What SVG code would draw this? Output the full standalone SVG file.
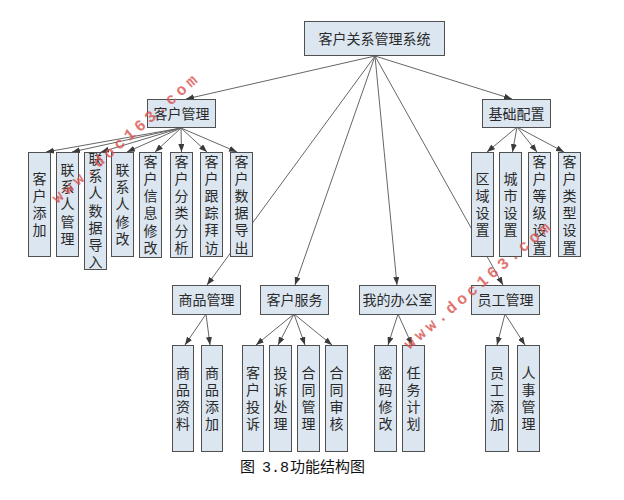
<svg xmlns="http://www.w3.org/2000/svg" width="624" height="500" viewBox="0 0 624 500">
<style>
.box{fill:#dce6f1;stroke:#505050;stroke-width:1}
.lbl{font-family:"Liberation Sans","Noto Sans CJK SC",sans-serif;font-size:14px;fill:#2a2a2a;text-anchor:middle;dominant-baseline:central}
.con{stroke:#666;stroke-width:1;fill:none;marker-end:url(#ah)}
.wm{font-family:"Liberation Mono",monospace;font-size:16px;font-weight:bold;fill:#d9534f;letter-spacing:4px;opacity:0.8}
.cap{font-family:"Liberation Sans","Noto Sans CJK SC",sans-serif;font-size:15px;fill:#111}
</style>
<defs>
<marker id="ah" viewBox="0 0 8 6" refX="8" refY="3" markerWidth="8" markerHeight="6" markerUnits="userSpaceOnUse" orient="auto">
<path d="M0,0 L8,3 L0,6 z" fill="#3a3a3a"/>
</marker>
</defs>
<rect width="624" height="500" fill="#fff"/>
<g id="connectors">
<line class="con" x1="375" y1="56" x2="186" y2="99"/>
<line class="con" x1="375" y1="56" x2="512" y2="99"/>
<line class="con" x1="375" y1="56" x2="207" y2="285"/>
<line class="con" x1="375" y1="56" x2="295" y2="285"/>
<line class="con" x1="375" y1="56" x2="397" y2="285"/>
<line class="con" x1="375" y1="56" x2="503" y2="285"/>
<line class="con" x1="181" y1="128" x2="46" y2="152"/>
<line class="con" x1="181" y1="128" x2="72" y2="152"/>
<line class="con" x1="181" y1="128" x2="101" y2="152"/>
<line class="con" x1="181" y1="128" x2="127" y2="152"/>
<line class="con" x1="181" y1="128" x2="155" y2="152"/>
<line class="con" x1="181" y1="128" x2="181.5" y2="152"/>
<line class="con" x1="181" y1="128" x2="207" y2="152"/>
<line class="con" x1="181" y1="128" x2="237" y2="152"/>
<line class="con" x1="517" y1="127" x2="487" y2="152"/>
<line class="con" x1="517" y1="127" x2="512.5" y2="152"/>
<line class="con" x1="517" y1="127" x2="537" y2="152"/>
<line class="con" x1="517" y1="127" x2="564" y2="152"/>
<line class="con" x1="206" y1="314" x2="185" y2="345"/>
<line class="con" x1="206" y1="314" x2="210" y2="345"/>
<line class="con" x1="294" y1="314" x2="256" y2="345"/>
<line class="con" x1="294" y1="314" x2="278" y2="345"/>
<line class="con" x1="294" y1="314" x2="305" y2="345"/>
<line class="con" x1="294" y1="314" x2="332" y2="345"/>
<line class="con" x1="398" y1="314" x2="388" y2="345"/>
<line class="con" x1="398" y1="314" x2="412" y2="345"/>
<line class="con" x1="505" y1="314" x2="497" y2="345"/>
<line class="con" x1="505" y1="314" x2="525" y2="345"/>
</g>
<g id="root"><rect class="box" x="304.5" y="21.5" width="140" height="34"/><text class="lbl" x="374.5" y="38.5">客户关系管理系统</text></g>
<g id="khgl"><rect class="box" x="147.5" y="99.5" width="68" height="28"/><text class="lbl" x="181.5" y="113.5">客户管理</text></g>
<g id="jcpz"><rect class="box" x="482.5" y="99.5" width="68" height="28"/><text class="lbl" x="516.5" y="113.5">基础配置</text></g>
<g id="spgl"><rect class="box" x="172.5" y="285.5" width="68" height="29"/><text class="lbl" x="206.5" y="300">商品管理</text></g>
<g id="khfw"><rect class="box" x="260.5" y="285.5" width="68" height="29"/><text class="lbl" x="294.5" y="300">客户服务</text></g>
<g id="wdbgs"><rect class="box" x="359.5" y="285.5" width="76" height="29"/><text class="lbl" x="397.5" y="300">我的办公室</text></g>
<g id="yggl"><rect class="box" x="471.5" y="285.5" width="68" height="29"/><text class="lbl" x="505.5" y="300">员工管理</text></g>

<g id="khtj"><rect class="box" x="28.5" y="152.5" width="22" height="104"/><text class="lbl"><tspan x="39.5" y="178.5">客</tspan><tspan x="39.5" y="195.8">户</tspan><tspan x="39.5" y="213.1">添</tspan><tspan x="39.5" y="230.4">加</tspan></text></g>
<g id="lxrgl"><rect class="box" x="56.5" y="152.5" width="22" height="104"/><text class="lbl"><tspan x="67.5" y="170">联</tspan><tspan x="67.5" y="187.2">系</tspan><tspan x="67.5" y="204.4">人</tspan><tspan x="67.5" y="221.6">管</tspan><tspan x="67.5" y="238.8">理</tspan></text></g>
<g id="lxrsjdr"><rect class="box" x="84.5" y="152.5" width="22" height="117"/><text class="lbl"><tspan x="95.5" y="159">联</tspan><tspan x="95.5" y="176.2">系</tspan><tspan x="95.5" y="193.4">人</tspan><tspan x="95.5" y="210.6">数</tspan><tspan x="95.5" y="227.8">据</tspan><tspan x="95.5" y="245">导</tspan><tspan x="95.5" y="262.2">入</tspan></text></g>
<g id="lxrxg"><rect class="box" x="111.5" y="152.5" width="22" height="104"/><text class="lbl"><tspan x="122.5" y="170">联</tspan><tspan x="122.5" y="187.2">系</tspan><tspan x="122.5" y="204.4">人</tspan><tspan x="122.5" y="221.6">修</tspan><tspan x="122.5" y="238.8">改</tspan></text></g>
<g id="khxxxg"><rect class="box" x="139.5" y="152.5" width="22" height="105"/><text class="lbl"><tspan x="150.5" y="161.8">客</tspan><tspan x="150.5" y="179">户</tspan><tspan x="150.5" y="196.2">信</tspan><tspan x="150.5" y="213.4">息</tspan><tspan x="150.5" y="230.6">修</tspan><tspan x="150.5" y="247.8">改</tspan></text></g>
<g id="khflfx"><rect class="box" x="170.5" y="152.5" width="22" height="105"/><text class="lbl"><tspan x="181.5" y="161.8">客</tspan><tspan x="181.5" y="179">户</tspan><tspan x="181.5" y="196.2">分</tspan><tspan x="181.5" y="213.4">类</tspan><tspan x="181.5" y="230.6">分</tspan><tspan x="181.5" y="247.8">析</tspan></text></g>
<g id="khgzbf"><rect class="box" x="200.5" y="152.5" width="22" height="104"/><text class="lbl"><tspan x="211.5" y="161.5">客</tspan><tspan x="211.5" y="178.7">户</tspan><tspan x="211.5" y="195.9">跟</tspan><tspan x="211.5" y="213.1">踪</tspan><tspan x="211.5" y="230.3">拜</tspan><tspan x="211.5" y="247.5">访</tspan></text></g>
<g id="khsjdc"><rect class="box" x="230.5" y="152.5" width="22" height="104"/><text class="lbl"><tspan x="241.5" y="161.5">客</tspan><tspan x="241.5" y="178.7">户</tspan><tspan x="241.5" y="195.9">数</tspan><tspan x="241.5" y="213.1">据</tspan><tspan x="241.5" y="230.3">导</tspan><tspan x="241.5" y="247.5">出</tspan></text></g>

<g id="qysz"><rect class="box" x="471.5" y="152.5" width="22" height="104"/><text class="lbl"><tspan x="482.5" y="178.5">区</tspan><tspan x="482.5" y="195.8">域</tspan><tspan x="482.5" y="213.1">设</tspan><tspan x="482.5" y="230.4">置</tspan></text></g>
<g id="cssz"><rect class="box" x="499.5" y="152.5" width="22" height="104"/><text class="lbl"><tspan x="510.5" y="178.5">城</tspan><tspan x="510.5" y="195.8">市</tspan><tspan x="510.5" y="213.1">设</tspan><tspan x="510.5" y="230.4">置</tspan></text></g>
<g id="khdjsz"><rect class="box" x="528.5" y="152.5" width="22" height="104"/><text class="lbl"><tspan x="539.5" y="161.5">客</tspan><tspan x="539.5" y="178.7">户</tspan><tspan x="539.5" y="195.9">等</tspan><tspan x="539.5" y="213.1">级</tspan><tspan x="539.5" y="230.3">设</tspan><tspan x="539.5" y="247.5">置</tspan></text></g>
<g id="khlxsz"><rect class="box" x="558.5" y="152.5" width="22" height="104"/><text class="lbl"><tspan x="569.5" y="161.5">客</tspan><tspan x="569.5" y="178.7">户</tspan><tspan x="569.5" y="195.9">类</tspan><tspan x="569.5" y="213.1">型</tspan><tspan x="569.5" y="230.3">设</tspan><tspan x="569.5" y="247.5">置</tspan></text></g>

<g id="spzl"><rect class="box" x="172.5" y="345.5" width="21" height="106"/><text class="lbl"><tspan x="183" y="372.5">商</tspan><tspan x="183" y="389.7">品</tspan><tspan x="183" y="406.9">资</tspan><tspan x="183" y="424.1">料</tspan></text></g>
<g id="sptj"><rect class="box" x="201.5" y="345.5" width="21" height="106"/><text class="lbl"><tspan x="212" y="372.5">商</tspan><tspan x="212" y="389.7">品</tspan><tspan x="212" y="406.9">添</tspan><tspan x="212" y="424.1">加</tspan></text></g>
<g id="khts"><rect class="box" x="242.5" y="345.5" width="21" height="106"/><text class="lbl"><tspan x="253" y="372.5">客</tspan><tspan x="253" y="389.7">户</tspan><tspan x="253" y="406.9">投</tspan><tspan x="253" y="424.1">诉</tspan></text></g>
<g id="tscl"><rect class="box" x="269.5" y="345.5" width="22" height="106"/><text class="lbl"><tspan x="280.5" y="372.5">投</tspan><tspan x="280.5" y="389.7">诉</tspan><tspan x="280.5" y="406.9">处</tspan><tspan x="280.5" y="424.1">理</tspan></text></g>
<g id="htgl"><rect class="box" x="297.5" y="345.5" width="22" height="106"/><text class="lbl"><tspan x="308.5" y="372.5">合</tspan><tspan x="308.5" y="389.7">同</tspan><tspan x="308.5" y="406.9">管</tspan><tspan x="308.5" y="424.1">理</tspan></text></g>
<g id="htsh"><rect class="box" x="325.5" y="345.5" width="22" height="106"/><text class="lbl"><tspan x="336.5" y="372.5">合</tspan><tspan x="336.5" y="389.7">同</tspan><tspan x="336.5" y="406.9">审</tspan><tspan x="336.5" y="424.1">核</tspan></text></g>
<g id="mmxg"><rect class="box" x="374.5" y="345.5" width="22" height="106"/><text class="lbl"><tspan x="385.5" y="372.5">密</tspan><tspan x="385.5" y="389.7">码</tspan><tspan x="385.5" y="406.9">修</tspan><tspan x="385.5" y="424.1">改</tspan></text></g>
<g id="rwjh"><rect class="box" x="402.5" y="345.5" width="22" height="106"/><text class="lbl"><tspan x="413.5" y="372.5">任</tspan><tspan x="413.5" y="389.7">务</tspan><tspan x="413.5" y="406.9">计</tspan><tspan x="413.5" y="424.1">划</tspan></text></g>
<g id="ygtj"><rect class="box" x="485.5" y="345.5" width="23" height="106"/><text class="lbl"><tspan x="497" y="372.5">员</tspan><tspan x="497" y="389.7">工</tspan><tspan x="497" y="406.9">添</tspan><tspan x="497" y="424.1">加</tspan></text></g>
<g id="rsgl"><rect class="box" x="517.5" y="345.5" width="22" height="106"/><text class="lbl"><tspan x="528.5" y="372.5">人</tspan><tspan x="528.5" y="389.7">事</tspan><tspan x="528.5" y="406.9">管</tspan><tspan x="528.5" y="424.1">理</tspan></text></g>

<text class="wm" transform="translate(58,197) rotate(-41)" x="-5" y="5">www.doc163.com</text>
<text class="wm" transform="translate(410,343) rotate(-40.4)" x="-5" y="5">www.doc163.com</text>

<text class="cap" y="472"><tspan x="240">图</tspan><tspan x="262" font-family="Liberation Mono, monospace">3.8</tspan><tspan x="290">功能结构图</tspan></text>
</svg>
